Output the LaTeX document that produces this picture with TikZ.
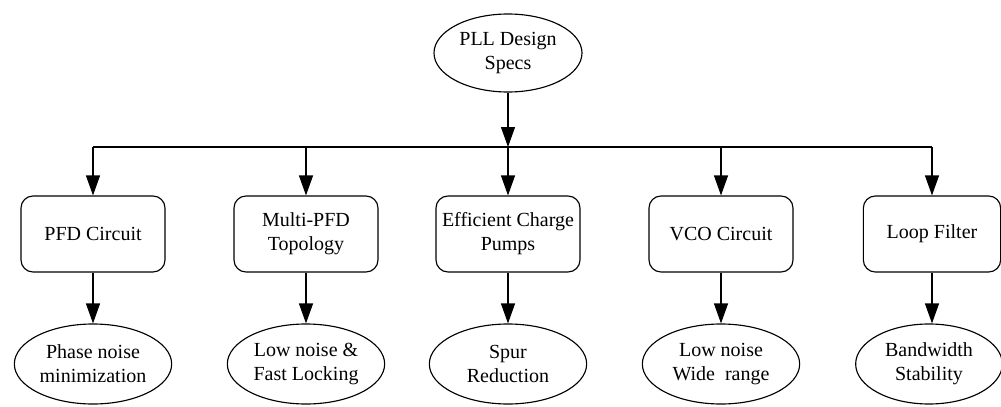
\documentclass[tikz,border=0pt]{standalone}
\usepackage{fontspec}
\newfontfamily\tnrfont{Liberation Serif}
\usetikzlibrary{arrows.meta,shapes.geometric}
\begin{document}
\begin{tikzpicture}[x=0.75pt,y=-0.75pt,
  every node/.style={font=\tnrfont\fontsize{15}{18}\selectfont, align=center, inner sep=0pt},
  ell/.style={draw, line width=0.85pt, ellipse, minimum width=118pt, minimum height=60pt},
  topell/.style={draw, line width=0.85pt, ellipse, minimum width=111pt, minimum height=58.5pt},
  rbox/.style={draw, line width=0.85pt, rounded corners=9pt, minimum width=108pt, minimum height=57pt},
  conn/.style={line width=0.85pt},
  arr/.style={conn, -{Triangle[length=15pt,width=10.5pt]}}]
\useasboundingbox (0,0) rectangle (1001,407);
\node[topell] (top) at (508,53) {PLL Design\\Specs};
\coordinate (bus) at (508,147);
\node[rbox] (b1) at (93,234) {PFD Circuit};
\node[rbox] (b2) at (306,234) {Multi-PFD\\Topology};
\node[rbox] (b3) at (508,234) {Efficient Charge\\Pumps};
\node[rbox] (b4) at (721,234) {VCO Circuit};
\node[rbox, minimum width=103pt] (b5) at (932,234) {Loop Filter};
\node[ell] (e1) at (93,364) {Phase noise\\minimization};
\node[ell] (e2) at (306,364) {Low noise \&\\Fast Locking};
\node[ell] (e3) at (508,364) {Spur\\Reduction};
\node[ell] (e4) at (721,364) {Low noise\\Wide~~range};
\node[ell, minimum width=110pt] (e5) at (929,364) {Bandwidth\\Stability};
\draw[arr] (top.south) -- (bus);
\draw[conn] (b1 |- bus) -- (b5 |- bus);
\foreach \i in {1,...,5} {
  \draw[arr] (b\i |- bus) -- (b\i.north);
}
\foreach \i in {1,...,4} {
  \draw[arr] (b\i.south) -- (e\i.north);
}
\draw[arr] (b5.south) -- (b5.south |- e5.north);
\end{tikzpicture}
\end{document}
